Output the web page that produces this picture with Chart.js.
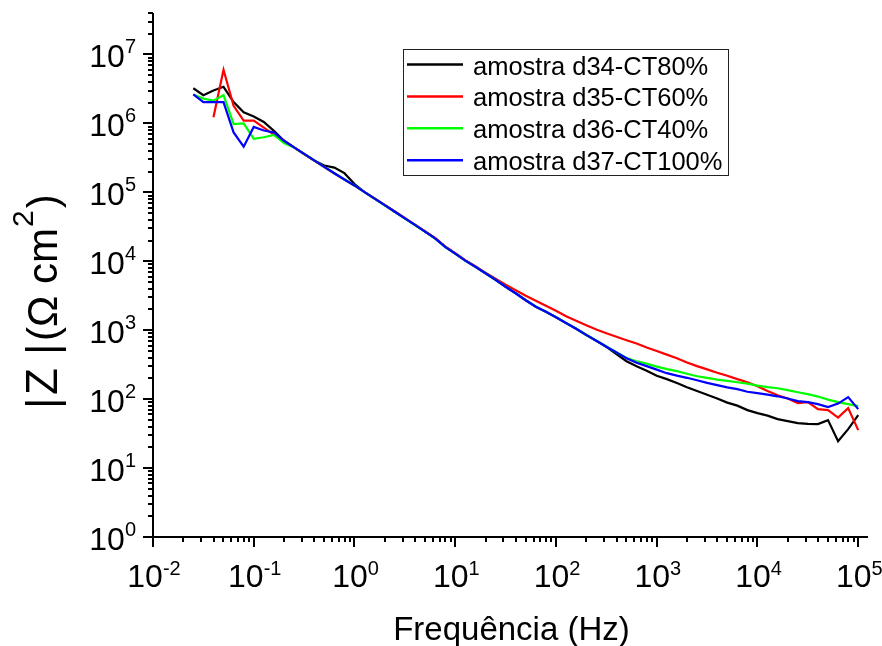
<!DOCTYPE html>
<html>
<head>
<meta charset="utf-8">
<script src="https://cdn.jsdelivr.net/npm/chart.js@4.4.0/dist/chart.umd.min.js"></script>
<style>
  html, body { margin: 0; padding: 0; background: #fff; }
</style>
</head>
<body>
<canvas id="bodeChart" width="882" height="646"></canvas>
<script>
// frequencies (Hz), 10 points per decade, high -> low
var freqHz = [100000, 79433, 63096, 50119, 39811, 31623, 25119, 19953, 15849, 12589,
  10000, 7943.3, 6309.6, 5011.9, 3981.1, 3162.3, 2511.9, 1995.3, 1584.9, 1258.9,
  1000, 794.33, 630.96, 501.19, 398.11, 316.23, 251.19, 199.53, 158.49, 125.89,
  100, 79.433, 63.096, 50.119, 39.811, 31.623, 25.119, 19.953, 15.849, 12.589,
  10, 7.9433, 6.3096, 5.0119, 3.9811, 3.1623, 2.5119, 1.9953, 1.5849, 1.2589,
  1, 0.79433, 0.63096, 0.50119, 0.39811, 0.31623, 0.25119, 0.19953, 0.15849, 0.12589,
  0.1, 0.079433, 0.063096, 0.050119, 0.039811, 0.031623, 0.025119];

// |Z| (ohm cm2) for each sample
var zD34 = [58.6, 36.7, 24.6, 49.6, 43.4, 43.8, 44.9, 48.0, 51.3, 57.7,
  62.7, 69.3, 80.5, 89.0, 102, 116, 131, 149, 171, 195,
  219, 259, 301, 355, 449, 575, 702, 853, 1050, 1268,
  1540, 1850, 2190, 2720, 3430, 4260, 5390, 6690, 8310, 10200,
  12900, 16200, 21500, 27000, 33700, 42000, 52300, 65200, 81300, 101000,
  132000, 190000, 229000, 245000, 290000, 360000, 450000, 560000, 780000, 1050000,
  1260000, 1450000, 2040000, 3400000, 3000000, 2570000, 3240000];
var zD35 = [35.5, 74.1, 53.9, 69.3, 71.6, 90.5, 87.5, 102, 114, 131,
  154, 176, 195, 219, 242, 270, 301, 341, 393, 442,
  500, 561, 642, 716, 805, 905, 1023, 1181, 1373, 1596,
  1918, 2265, 2677, 3162, 3800, 4565, 5575, 6810, 8470, 10400,
  13100, 16500, 21800, 27300, 34000, 42400, 52800, 65500, 81500, 101000,
  125000, 153000, 188000, 233000, 290000, 360000, 450000, 560000, 690000, 870000,
  1100000, 1100000, 1800000, 6000000, 1230000, null, null];
var zD36 = [79.2, 84.7, 90.5, 98.4, 109, 118, 126, 135, 144, 149,
  157, 168, 176, 184, 192, 203, 215, 234, 255, 272,
  296, 327, 355, 395, 479, 580, 706, 858, 1055, 1275,
  1548, 1860, 2200, 2730, 3445, 4280, 5400, 6710, 8330, 10200,
  12900, 16200, 21400, 27000, 33600, 42000, 52200, 65100, 81200, 101000,
  126000, 154000, 189000, 234000, 291000, 361000, 449000, 520000, 680000, 630000,
  600000, 1000000, 980000, 2570000, 2140000, 2290000, 2630000];
var zD37 = [71.6, 107, 86.1, 76.6, 84.7, 90.5, 93.5, 102, 110, 116,
  122, 128, 140, 148, 160, 172, 188, 204, 219, 238,
  268, 301, 338, 393, 477, 577, 704, 855, 1052, 1271,
  1543, 1854, 2193, 2722, 3437, 4270, 5395, 6700, 8320, 10200,
  12900, 16200, 21500, 27000, 33700, 42000, 52300, 65200, 81300, 101000,
  126000, 154000, 189000, 234000, 291000, 361000, 449000, 560000, 740000, 790000,
  890000, 460000, 740000, 2040000, 2040000, 2040000, 2630000];

var seriesNames = ['amostra d34-CT80%', 'amostra d35-CT60%', 'amostra d36-CT40%', 'amostra d37-CT100%'];
var seriesColors = ['#000000', '#ff0000', '#00ff00', '#0000ff'];
var xTickExp = [-2, -1, 0, 1, 2, 3, 4, 5];
var yTickExp = [0, 1, 2, 3, 4, 5, 6, 7];

var FONT = 'Arial, "Liberation Sans", sans-serif';

function toPoints(zList) {
  var pts = [];
  freqHz.forEach(function (f, i) {
    if (zList[i] != null) pts.push({ x: f, y: zList[i] });
  });
  return pts;
}

function powLabel(ctx, exp, x, y, supOffset, centered) {
  ctx.font = '32px ' + FONT;
  var wb = ctx.measureText('10').width;
  ctx.font = '20px ' + FONT;
  var ws = ctx.measureText(String(exp)).width;
  var left = centered ? x - (wb + ws) / 2 : x - wb - ws;
  ctx.font = '32px ' + FONT;
  ctx.fillText('10', left, y);
  ctx.font = '20px ' + FONT;
  ctx.fillText(String(exp), left + wb, y + supOffset);
}

var originAxes = {
  id: 'originAxes',
  afterDraw: function (chart) {
    var ctx = chart.ctx;
    var xs = chart.scales.x, ys = chart.scales.y;
    var area = chart.chartArea;
    var ax = area.left, ay = area.bottom;
    ctx.save();
    ctx.strokeStyle = '#000';
    ctx.fillStyle = '#000';
    ctx.lineWidth = 2;

    // axis lines
    ctx.beginPath();
    ctx.moveTo(ax, area.top);
    ctx.lineTo(ax, ay);
    ctx.lineTo(area.right, ay);
    ctx.stroke();

    // y ticks
    ctx.beginPath();
    yTickExp.concat([yTickExp[yTickExp.length - 1] + 1]).forEach(function (e) {
      for (var k = 1; k <= 9; k++) {
        var v = k * Math.pow(10, e);
        if (v < ys.min || v > ys.max * 1.0001) continue;
        var py = Math.round(ys.getPixelForValue(v));
        var len = k === 1 ? 10 : 5;
        ctx.moveTo(ax, py);
        ctx.lineTo(ax - len, py);
      }
    });
    // x ticks
    xTickExp.forEach(function (e) {
      for (var k = 1; k <= 9; k++) {
        var v = k * Math.pow(10, e);
        if (v < xs.min || v > xs.max) continue;
        var px = Math.round(xs.getPixelForValue(v));
        var len = k === 1 ? 10 : 5;
        ctx.moveTo(px, ay);
        ctx.lineTo(px, ay + len);
      }
    });
    ctx.stroke();

    // tick labels
    ctx.textBaseline = 'alphabetic';
    ctx.textAlign = 'left';
    yTickExp.forEach(function (e) {
      var py = ys.getPixelForValue(Math.pow(10, e));
      powLabel(ctx, e, ax - 17, py + 12.5, -14, false);
    });
    xTickExp.forEach(function (e) {
      var px = xs.getPixelForValue(Math.pow(10, e));
      powLabel(ctx, e, px + 1, ay + 50, -12, true);
    });

    // x title
    ctx.font = '33px ' + FONT;
    ctx.textAlign = 'center';
    ctx.fillText('Frequência (Hz)', (area.left + area.right) / 2 + 1, 640);

    // y title, drawn bottom-up in pieces (Origin style spacing)
    ctx.save();
    ctx.translate(57, 407);
    ctx.rotate(-Math.PI / 2);
    ctx.textAlign = 'left';
    ctx.font = '44px ' + FONT;
    ctx.fillText('|', -2, 0);
    ctx.fillText('Z', 12, 0);
    ctx.fillText('|', 52, 0);
    ctx.font = '42px ' + FONT;
    var main = '(Ω cm';
    ctx.fillText(main, 66, 0);
    var w1 = 66 + ctx.measureText(main).width;
    ctx.font = '30px ' + FONT;
    ctx.fillText('2', w1 + 1, -24);
    var w2 = ctx.measureText('2').width;
    ctx.font = '42px ' + FONT;
    ctx.fillText(')', w1 + w2 + 3, 0);
    ctx.restore();

    // legend
    ctx.lineWidth = 1;
    ctx.strokeStyle = '#222';
    ctx.strokeRect(403.5, 49.5, 325, 126);
    ctx.font = '25.5px ' + FONT;
    ctx.textAlign = 'left';
    chart.data.datasets.forEach(function (ds, i) {
      var ry = 64.5 + i * 31.9;
      ctx.strokeStyle = ds.borderColor;
      ctx.lineWidth = 2.5;
      ctx.beginPath();
      ctx.moveTo(407, ry);
      ctx.lineTo(463, ry);
      ctx.stroke();
      ctx.fillStyle = '#000';
      ctx.fillText(ds.label, 473, ry + 10);
    });
    ctx.restore();
  }
};

var zLists = [zD34, zD35, zD36, zD37];
var datasets = zLists.map(function (z, i) {
  return {
    label: seriesNames[i],
    data: toPoints(z),
    borderColor: seriesColors[i],
    backgroundColor: seriesColors[i],
    borderWidth: 2.2,
    pointRadius: 0,
    tension: 0,
    fill: false,
    order: 4 - i
  };
});

var chart = new Chart(document.getElementById('bodeChart'), {
  type: 'line',
  data: { datasets: datasets },
  options: {
    responsive: false,
    devicePixelRatio: 1,
    animation: false,
    layout: { padding: { left: 153, right: 14, top: 13, bottom: 109 } },
    plugins: { legend: { display: false }, tooltip: { enabled: false } },
    scales: {
      x: { type: 'logarithmic', min: 0.01, max: 125000, display: false },
      y: { type: 'logarithmic', min: 1, max: 40000000, display: false }
    }
  },
  plugins: [originAxes]
});
</script>
</body>
</html>
